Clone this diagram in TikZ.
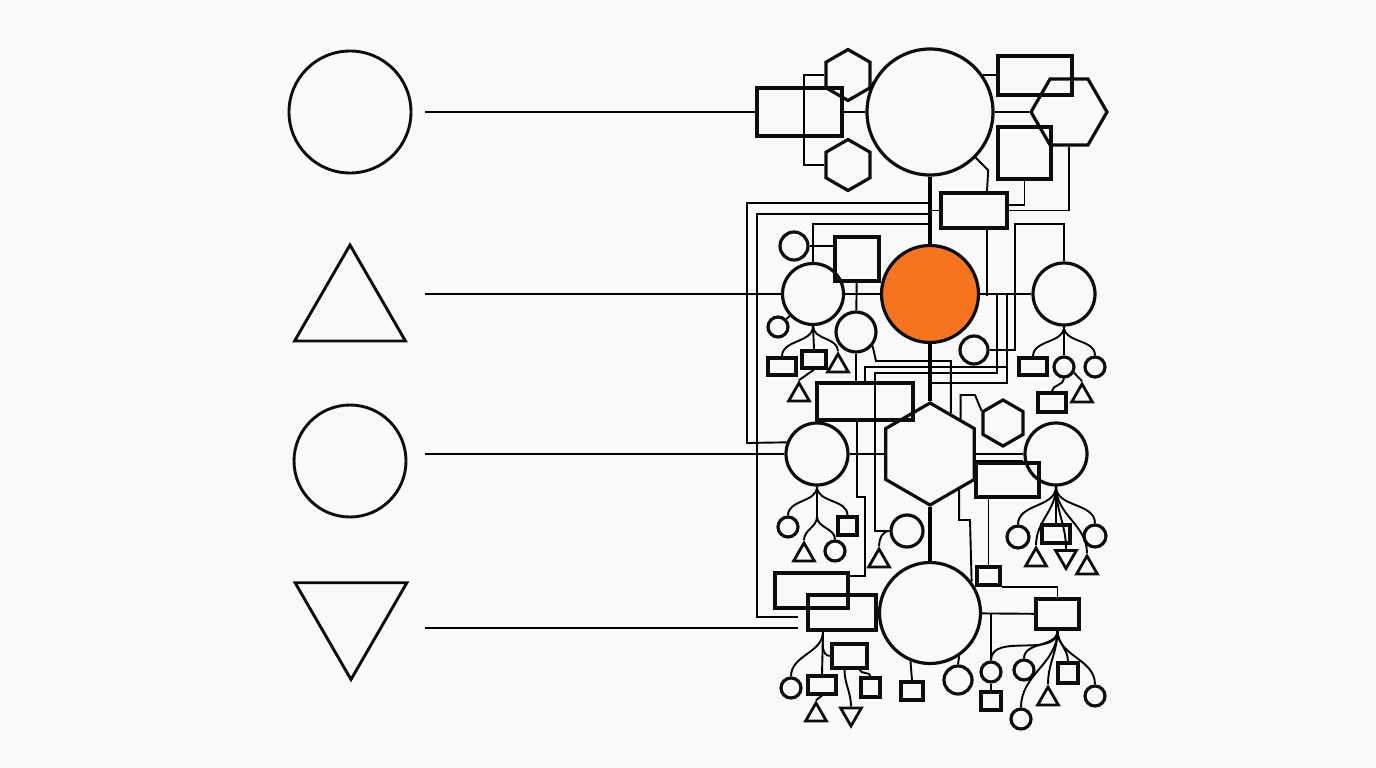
\documentclass[tikz,border=0pt]{standalone}
\usetikzlibrary{shapes.geometric}
\definecolor{paper}{RGB}{249,249,247}
\definecolor{hot}{RGB}{245,116,32}

\begin{document}
\begin{tikzpicture}[x=1pt, y=-1pt,
		shape line/.style={draw=black!95, line width=3.2pt, inner sep=0pt},
		ring/.style={shape line, circle, minimum size=#1},
		box/.style 2 args={shape line, rectangle, minimum width=#1, minimum height=#2},
		hexa/.style={shape line, regular polygon, regular polygon sides=6, shape border rotate=30, minimum size=#1},
		flathexa/.style={shape line, regular polygon, regular polygon sides=6, minimum size=#1},
		tri/.style={shape line, line width=2.8pt, regular polygon, regular polygon sides=3, minimum size=24pt},
		vtri/.style={tri, shape border rotate=180},
		wire/.style={line width=1.9pt},
		trunk/.style={line width=3.4pt}]
		\fill[paper] (0, 0) rectangle (1376, 768);

		% 左の図形を描画
		\node[ring=122pt, line width=2.9pt] (keyA) at (350, 112) {};
		\node[tri, line width=2.9pt, minimum size=128pt] (keyB) at (350, 309) {};
		\node[ring=112pt, line width=2.9pt] (keyC) at (350, 461) {};
		\node[vtri, line width=2.9pt, minimum size=129pt] (keyD) at (351, 615) {};
		\foreach \y/\n in {112/1, 294/2, 454/3, 628/4}
			\coordinate (lead\n) at (425, \y);

		% 上のハブ
		\node[ring=126pt] (hub1) at (930, 112) {};
		\node[box={85pt}{48pt}] (boxTL) at (799.5, 112) {};
		\node[hexa=51pt] (hexT1) at (848, 75) {};
		\node[hexa=51pt] (hexT2) at (848, 165) {};
		\node[box={74pt}{39pt}] (boxTR) at (1035, 75.5) {};
		\node[flathexa=76pt] (hexTR) at (1069, 112) {};
		\node[box={53pt}{52pt}] (sqTR) at (1024.5, 153) {};
		\node[box={66pt}{35pt}] (boxM) at (974, 210.5) {};

		% オレンジのハブ
		\node[ring=97pt, fill=hot] (hub2) at (930, 294) {};
		\node[ring=28pt] (cS1) at (794, 246) {};
		\node[box={44pt}{44pt}] (sqL) at (857, 259) {};
		\node[ring=61pt] (cL1) at (813, 294) {};
		\node[ring=40pt] (cS2) at (856, 332) {};
		\node[ring=20pt] (cS3) at (778, 327) {};
		\node[box={28pt}{17pt}] (bx1) at (782, 366.5) {};
		\node[box={24pt}{17pt}] (bx2) at (814, 359.5) {};
		\node[tri] (tri1) at (838, 366) {};
		\node[tri] (tri2) at (799, 395) {};
		\node[box={96pt}{37pt}] (boxW) at (865, 401.5) {};
		\node[ring=62pt] (cR1) at (1064, 294) {};
		\node[ring=28pt] (cS4) at (974, 350) {};
		\node[box={28pt}{17pt}] (bx3) at (1033, 366.5) {};
		\node[ring=20pt] (cS5) at (1064, 367) {};
		\node[ring=20pt] (cS6) at (1095, 367) {};
		\node[box={28pt}{19pt}] (bx4) at (1052, 402.5) {};
		\node[tri] (tri3) at (1082, 396) {};

		% 六角形のハブ
		\node[hexa=102pt] (hub3) at (930, 454) {};
		\node[hexa=46pt] (hexS) at (1003, 423) {};
		\node[ring=62pt] (cL2) at (817, 454) {};
		\node[ring=62pt] (cR2) at (1056, 454) {};
		\node[box={63pt}{34pt}] (boxE) at (1007.5, 480) {};
		\node[ring=20pt] (cS7) at (788, 527) {};
		\node[box={19pt}{18pt}] (sq2) at (847.5, 526) {};
		\node[tri] (tri4) at (804, 555) {};
		\node[ring=20pt] (cS8) at (835, 551) {};
		\node[ring=32pt] (cS9) at (907, 531) {};
		\node[tri] (tri5) at (879, 561) {};
		\node[ring=22pt] (cS10) at (1018, 537) {};
		\node[box={28pt}{18pt}] (bx5) at (1056, 534) {};
		\node[ring=22pt] (cS11) at (1095, 536) {};
		\node[tri] (tri6) at (1036, 560) {};
		\node[vtri] (tri7) at (1066, 556.5) {};
		\node[tri] (tri8) at (1087, 568) {};

		% 下のハブ
		\node[ring=101pt] (hub4) at (930, 613) {};
		\node[box={73pt}{35pt}] (boxA) at (811.5, 590.5) {};
		\node[box={68pt}{35pt}] (boxB) at (842, 612.5) {};
		\node[box={23pt}{18pt}] (sq3) at (988.5, 576) {};
		\node[box={43pt}{30pt}] (boxC) at (1057.5, 614) {};
		\node[ring=20pt] (cS12) at (991, 672) {};
		\node[box={20pt}{18pt}] (sq4) at (991, 701) {};
		\node[ring=20pt] (cS13) at (1024, 670) {};
		\node[box={20pt}{20pt}] (sq5) at (1068, 673) {};
		\node[tri] (tri9) at (1048, 699) {};
		\node[ring=20pt] (cS14) at (1095, 696) {};
		\node[ring=20pt] (cS15) at (1021, 719) {};
		\node[box={22pt}{18pt}] (sq6) at (912, 691) {};
		\node[ring=28pt] (cS16) at (958, 680) {};
		\node[box={28pt}{18pt}] (bx6) at (822, 685) {};
		\node[tri] (tri10) at (816, 715) {};
		\node[ring=20pt] (cS17) at (791, 688) {};
		\node[box={35pt}{24pt}] (boxD) at (849.5, 656) {};
		\node[vtri] (triD) at (851, 714) {};
		\node[box={19pt}{19pt}] (sq7) at (870.5, 687.5) {};

		% 左からの線
		\draw[wire] (lead1) -- (boxTL.west);
		\draw[wire] (lead2) -- (cL1.west);
		\draw[wire] (lead3) -- (cL2.west);
		\draw[wire] (lead4) -- (798, 628);

		% 幹
		\draw[trunk] (hub1) -- (hub2);
		\draw[trunk] (hub2) -- (hub3);
		\draw[trunk] (hub3) -- (hub4);

		% 上の線
		\draw[wire] (boxTL) -- (hub1);
		\draw[wire] (hexT1.-30) -- (hub1.152);
		\draw[wire] (hexT1.west) -- ++(-20, 0) |- (hexT2.west);
		\draw[wire] (hub1) -- (hexTR);
		\draw[wire] (hub1.35) -- (hub1.35 -| boxTR.west);
		\draw[wire] (sqTR.south) |- ([yshift=5.5pt]boxM.east);
		\draw[wire] (hexTR.south) |- (boxM.east);
		\draw[wire] (hub1.-45) -- ++(12.5, 12.5) -- ([xshift=13pt]boxM.north);
		\draw[wire] (boxM.west) -- (boxM.west -| hub1.south);
		\coordinate (j1) at (930, 203);
		\coordinate (j2) at (930, 214);
		\coordinate (j3) at (930, 224);
		\draw[wire] (j1) -| (747, 443) -- (cL2.159);
		\draw[wire] (j2) -| (757, 617) -- (798, 617);
		\draw[wire] (j3) -| (cL1.north);

		% オレンジのまわり
		\draw[wire] (cS1.east) -- (cS1.east -| sqL.west);
		\draw[wire] (cL1) -- (hub2);
		\draw[wire] (sqL) -- (cS2);
		\draw[wire] (cS2.south) -- (cS2.south |- boxW.north);
		\draw[wire] (cS3) -- (cL1);
		\draw[wire] (cL1.south) to[out=-90, in=90] (bx1.north);
		\draw[wire] (cL1.south) -- (bx2.north);
		\draw[wire] (cL1.south) to[out=-90, in=90] (tri1.north);
		\draw[wire] (bx2.south) -- (tri2.north);
		\draw[wire] (hub2) -- (cR1);
		\draw[wire] ([xshift=13pt]boxM.south) -- ++(0, 66);
		\draw[wire] (cS4.east) -| (1015, 224) -| (cR1.north);
		\draw[wire] (1007, 294) |- (930, 383);
		\draw[wire] (boxW.north) |- (1007, 367);
		\draw[wire] (997, 294) |- (875, 373) |- (cS9.west);
		\draw[wire] (cS2.-40) -- (876, 361) -| (hub3.63);
		\draw[wire] (cR1.south) to[out=-90, in=90] (bx3.north);
		\draw[wire] (cR1.south) -- (cS5.north);
		\draw[wire] (cR1.south) to[out=-90, in=90] (cS6.north);
		\draw[wire] (cS5.south) to[out=-90, in=90] (bx4.north);
		\draw[wire] (cS5.-30) -- (tri3.north);

		% 六角形のまわり
		\draw[wire] (cL2) -- (hub3);
		\draw[wire] (hub3) -- (cR2);
		\draw[wire] ([yshift=-7pt]hub3.east) -- ([yshift=-7pt]hub3.east -| cR2.west);
		\draw[wire] (hexS.150) -- (975, 395) -| (hub3.49);
		\draw[wire] (hub3.-51) |- (970, 520) -- (hub4.37);
		\draw[wire] ([xshift=-8pt]boxW.south) |- (865, 497) |- ([yshift=14.5pt]boxA.east);
		\draw[wire] (cS9.west) to[out=180, in=90] (tri5.north);
		\draw[wire] (cL2.south) to[out=-90, in=90] (cS7.north);
		\draw[wire] (cL2.south) -- ++(0, 30) coordinate (f1);
		\draw[wire] (f1) to[out=-90, in=90] (tri4.north);
		\draw[wire] (f1) to[out=-90, in=90] (cS8.north);
		\draw[wire] (cL2.south) to[out=-90, in=90] (sq2.north);
		\foreach \t in {cS10, bx5, cS11, tri6, tri7, tri8}
			\draw[wire] (cR2.south) to[out=-90, in=90] (\t.north);
		\draw[wire] (sq3.north |- boxE.south) -- (sq3.north);

		% 下のまわり
		\draw[wire] (hub4) -- (boxC);
		\draw[wire] (sq3.south east) -| (boxC.north);
		\draw[wire] (cS12.north |- hub4.east) -- (cS12.north);
		\draw[wire] (cS12) -- (sq4);
		\foreach \t in {cS12, cS13, sq5, tri9, cS14, cS15}
			\draw[wire] (boxC.south) to[out=-90, in=90] (\t.north);
		\draw[wire] (hub4.-112) -- (sq6.north);
		\draw[wire] (hub4.-56) -- (cS16.north);
		\coordinate (f2) at ([xshift=-19pt]boxB.south);
		\draw[wire] (f2) -- (bx6.north);
		\draw[wire] (f2) to[out=-90, in=90] (cS17.north);
		\draw[wire] (f2) to[out=-90, in=180] (boxD.west);
		\draw[wire] (bx6.south) -- (tri10.north);
		\draw[wire] ([xshift=-5pt]boxD.south) to[out=-90, in=90] (triD.north);
		\draw[wire] ([xshift=10pt]boxD.south) to[out=-80, in=90] (sq7.north);
\end{tikzpicture}
\end{document}
